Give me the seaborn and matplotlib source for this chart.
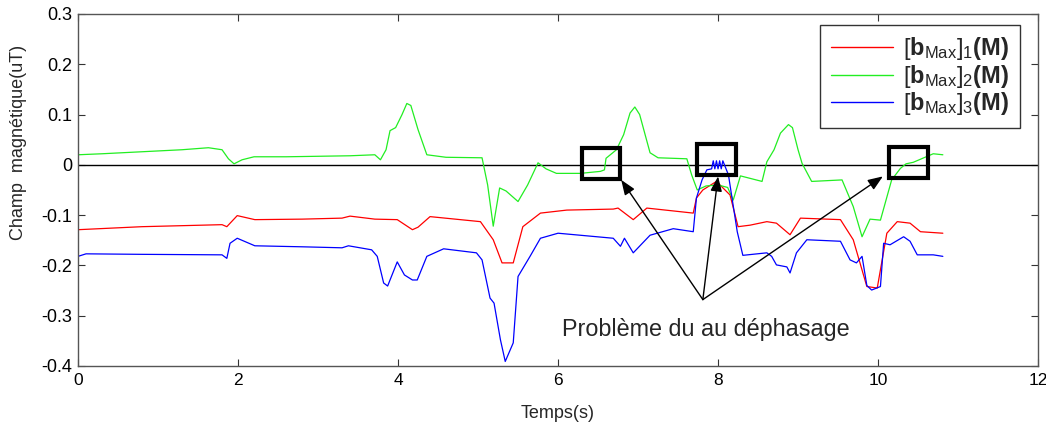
import matplotlib
matplotlib.use("Agg")
import matplotlib.pyplot as plt
import matplotlib.patches as mpatches
import seaborn as sns
import pandas as pd

# ---- data ----
x_b1 = [0, 0.4, 0.8, 1.3, 1.8, 1.86, 1.99, 2.21, 2.8, 3.3, 3.4, 3.71, 3.99, 4.18, 4.25, 4.4,
        5.03, 5.19, 5.3, 5.44, 5.56, 5.78, 6.11, 6.69, 6.75, 6.94, 7.11, 7.69, 7.73, 7.81,
        7.98, 8.15, 8.25, 8.4, 8.61, 8.73, 8.9, 9.03, 9.53, 9.69, 9.86, 9.99, 10.11, 10.24,
        10.4, 10.53, 10.81]
y_b1 = [-0.129, -0.126, -0.123, -0.121, -0.119, -0.123, -0.101, -0.109, -0.108, -0.106,
        -0.102, -0.108, -0.109, -0.129, -0.124, -0.103, -0.113, -0.149, -0.195, -0.195,
        -0.123, -0.096, -0.090, -0.088, -0.086, -0.109, -0.086, -0.096, -0.066, -0.050,
        -0.033, -0.060, -0.123, -0.120, -0.113, -0.116, -0.139, -0.106, -0.109, -0.149,
        -0.242, -0.245, -0.136, -0.113, -0.116, -0.133, -0.136]

x_b2 = [0, 0.3, 0.8, 1.3, 1.63, 1.8, 1.88, 1.95, 2.05, 2.2, 2.6, 3.0, 3.4, 3.71, 3.78, 3.85,
        3.9, 3.97, 4.05, 4.11, 4.16, 4.25, 4.36, 4.6, 5.05, 5.12, 5.19, 5.27, 5.35, 5.5,
        5.62, 5.75, 5.85, 5.98, 6.28, 6.53, 6.58, 6.6, 6.73, 6.82, 6.9, 6.96, 7.02, 7.15,
        7.25, 7.61, 7.67, 7.74, 7.85, 8.0, 8.12, 8.19, 8.28, 8.55, 8.61, 8.7, 8.78, 8.88,
        8.93, 9.0, 9.05, 9.17, 9.55, 9.69, 9.8, 9.9, 10.03, 10.17, 10.28, 10.35, 10.44,
        10.69, 10.81]
y_b2 = [0.020, 0.022, 0.026, 0.030, 0.034, 0.030, 0.012, 0.002, 0.010, 0.016, 0.016, 0.017,
        0.018, 0.020, 0.010, 0.030, 0.068, 0.074, 0.100, 0.122, 0.118, 0.070, 0.020, 0.015,
        0.014, -0.040, -0.122, -0.046, -0.052, -0.073, -0.040, 0.004, -0.008, -0.017,
        -0.017, -0.013, -0.010, 0.013, 0.030, 0.060, 0.103, 0.115, 0.100, 0.024, 0.014,
        0.012, -0.020, -0.050, -0.042, -0.040, -0.045, -0.070, -0.022, -0.033, 0.006,
        0.030, 0.063, 0.080, 0.074, 0.030, 0.003, -0.033, -0.030, -0.083, -0.143, -0.108,
        -0.110, -0.030, -0.007, 0.002, 0.005, 0.022, 0.020]

x_b3 = [0, 0.1, 0.8, 1.8, 1.86, 1.9, 1.99, 2.21, 2.8, 3.3, 3.38, 3.67, 3.74, 3.82, 3.87,
        3.99, 4.08, 4.18, 4.24, 4.36, 4.57, 4.98, 5.05, 5.15, 5.2, 5.28, 5.34, 5.44, 5.5,
        5.65, 5.78, 6.0, 6.69, 6.78, 6.83, 6.94, 7.15, 7.44, 7.69, 7.73, 7.8, 7.86, 7.92,
        7.94, 7.96, 7.98, 8.0, 8.02, 8.04, 8.06, 8.13, 8.24, 8.31, 8.61, 8.67, 8.73, 8.86,
        8.9, 8.98, 9.11, 9.53, 9.65, 9.73, 9.8, 9.86, 9.92, 10.03, 10.07, 10.15, 10.32,
        10.4, 10.49, 10.69, 10.81]
y_b3 = [-0.182, -0.177, -0.178, -0.179, -0.186, -0.156, -0.146, -0.161, -0.163, -0.165,
        -0.161, -0.169, -0.182, -0.235, -0.241, -0.193, -0.219, -0.229, -0.229, -0.182,
        -0.167, -0.175, -0.189, -0.265, -0.275, -0.348, -0.391, -0.354, -0.222, -0.182,
        -0.146, -0.136, -0.146, -0.162, -0.146, -0.175, -0.140, -0.127, -0.133, -0.066,
        -0.030, -0.010, -0.008, 0.008, -0.008, 0.008, -0.008, 0.008, -0.008, 0.008,
        -0.020, -0.133, -0.180, -0.175, -0.182, -0.199, -0.203, -0.215, -0.175, -0.149,
        -0.152, -0.189, -0.195, -0.182, -0.240, -0.249, -0.242, -0.156, -0.159, -0.143,
        -0.152, -0.179, -0.179, -0.182]

labels = [r"$[\mathbf{b}_{\mathrm{Max}}]_{1}\mathbf{(M)}$",
          r"$[\mathbf{b}_{\mathrm{Max}}]_{2}\mathbf{(M)}$",
          r"$[\mathbf{b}_{\mathrm{Max}}]_{3}\mathbf{(M)}$"]
colors = ["#ff0000", "#22ee22", "#0000ff"]

x_ticks = [0, 2, 4, 6, 8, 10, 12]
y_ticks = [-0.4, -0.3, -0.2, -0.1, 0, 0.1, 0.2, 0.3]
y_ticklabels = ["-0.4", "-0.3", "-0.2", "-0.1", "0", "0.1", "0.2", "0.3"]

# problem boxes: (x0, y0, width, height)
boxes = [(6.30, -0.028, 0.48, 0.062), (7.74, -0.021, 0.48, 0.063), (10.14, -0.026, 0.49, 0.062)]
arrow_tail = (7.81, -0.268)
arrow_heads = [(6.79, -0.030), (8.00, -0.023), (10.06, -0.023)]
note_text = "Problème du au déphasage"
note_pos = (7.85, -0.327)

# ---- plot ----
sns.set_style("ticks")
plt.rcParams["font.family"] = ["Liberation Sans", "DejaVu Sans"]
plt.rcParams["mathtext.fontset"] = "custom"
plt.rcParams["mathtext.rm"] = "Liberation Sans"
plt.rcParams["mathtext.bf"] = "Liberation Sans:bold"
plt.rcParams["mathtext.it"] = "Liberation Sans:italic"

fig = plt.figure(figsize=(10.46, 4.23), dpi=100)
ax = fig.add_axes([0.0746, 0.1348, 0.9178, 0.8322])

frames = []
for xs, ys, lab in zip([x_b1, x_b2, x_b3], [y_b1, y_b2, y_b3], labels):
    frames.append(pd.DataFrame({"t": xs, "b": ys, "s": lab}))
df = pd.concat(frames, ignore_index=True)

sns.lineplot(data=df, x="t", y="b", hue="s", palette=dict(zip(labels, colors)),
             estimator=None, sort=False, lw=0.9, ax=ax)

ax.axhline(0, color="black", lw=1.0, zorder=1)

ax.set_xlim(0, 12)
ax.set_ylim(-0.4, 0.3)
ax.set_xticks(x_ticks)
ax.set_yticks(y_ticks)
ax.set_yticklabels(y_ticklabels)
ax.tick_params(direction="in", length=5, width=0.8, top=True, right=True,
               labelsize=13, colors="#333333", labelcolor="black")
ax.tick_params(axis="x", pad=5, labelsize=12.5)
ax.tick_params(axis="y", pad=4)
for sp in ax.spines.values():
    sp.set_color("#555555")
    sp.set_linewidth(1.0)
    sp.set_visible(True)

ax.set_xlabel("Temps(s)", fontsize=13)
ax.xaxis.set_label_coords(0.5, -0.11)
ax.set_ylabel("Champ  magnétique(uT)", fontsize=13)
ax.yaxis.set_label_coords(-0.053, 0.634)

for (x0, y0, w, h) in boxes:
    ax.add_patch(mpatches.Rectangle((x0, y0), w, h, fill=False, ec="black", lw=3, zorder=5))

for hx, hy in arrow_heads:
    ax.annotate("", xy=(hx, hy), xytext=arrow_tail,
                arrowprops=dict(arrowstyle="-|>,head_length=0.9,head_width=0.35",
                                color="black", lw=1.0, shrinkA=0, shrinkB=0), zorder=6)

ax.text(note_pos[0], note_pos[1], note_text, ha="center", va="center", fontsize=16.8)

leg = ax.legend(loc="upper right", bbox_to_anchor=(0.981, 0.969), fontsize=17,
                frameon=True, fancybox=False, edgecolor="black", handlelength=2.6,
                handletextpad=0.45, borderpad=0.45, labelspacing=0.02, borderaxespad=0)
leg.get_frame().set_linewidth(1.0)
for line in leg.get_lines():
    line.set_linewidth(1.0)

fig.savefig("out.png", dpi=100, facecolor="white")
